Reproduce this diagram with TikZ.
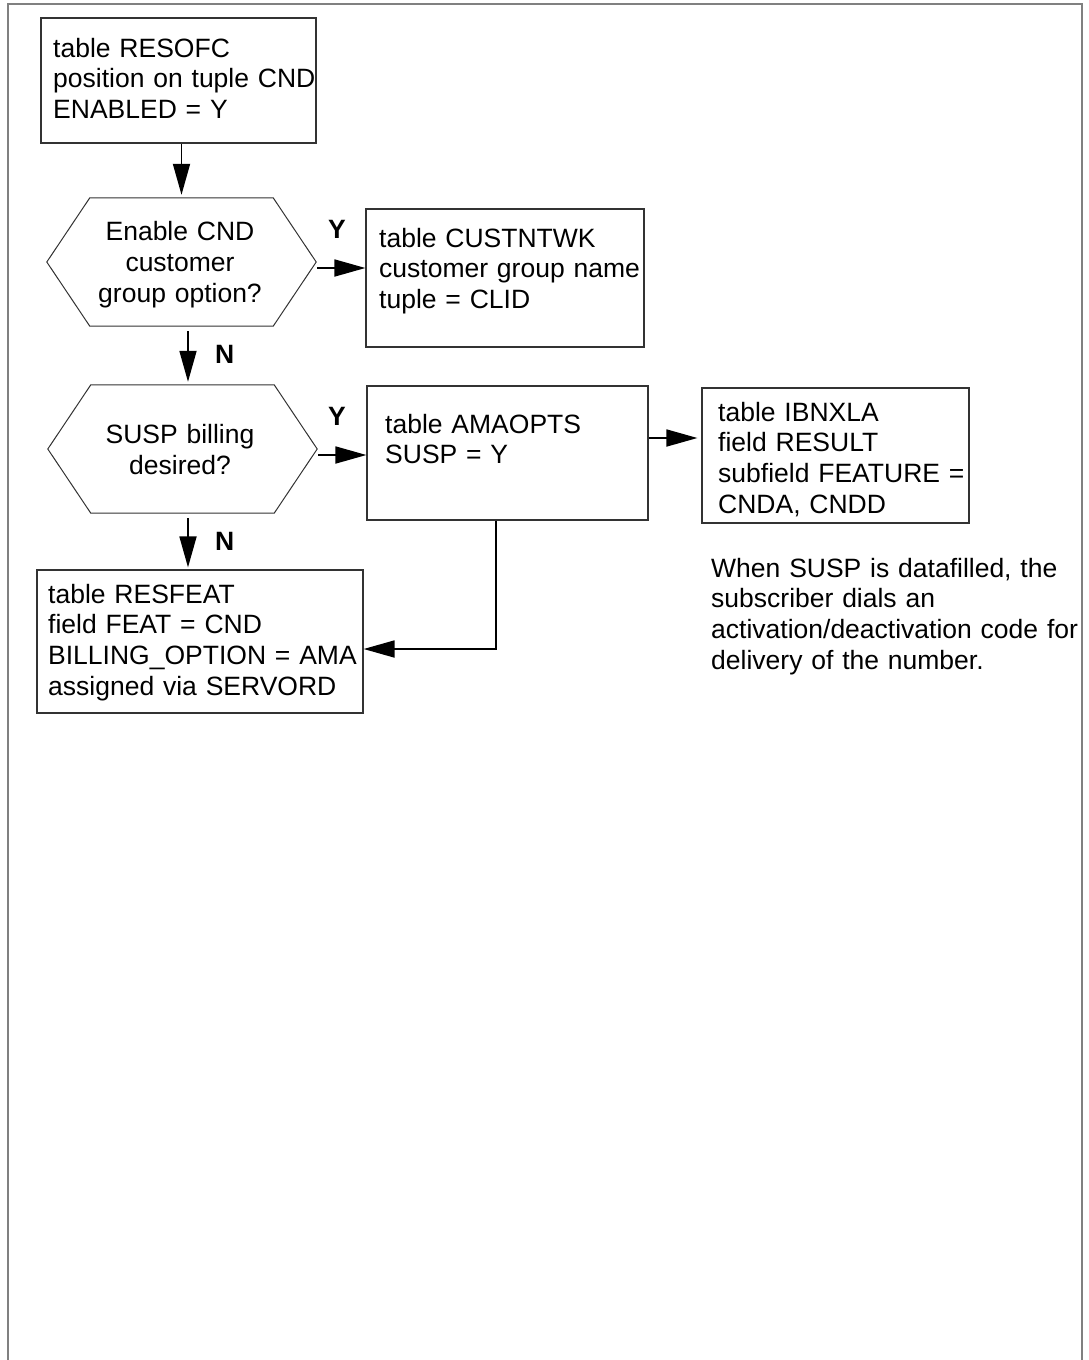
\documentclass[tikz,border=0pt]{standalone}
\usepackage{fontspec}
\setmainfont{Liberation Sans}
\usetikzlibrary{arrows.meta,calc}
\begin{document}
\begin{tikzpicture}[x=1pt,y=-1pt,
  box/.style={draw=black!80, line width=1.2pt, inner sep=0pt, rectangle},
  hexn/.style={inner sep=0pt, minimum width=269pt, minimum height=128pt},
  hexline/.style={draw=black!80, line width=1pt},
  txt/.style={inner sep=0pt, font=\fontsize{26.5}{30.8}\selectfont, text width=420pt, align=left, anchor=base west},
  ctxt/.style={inner sep=0pt, font=\fontsize{26.5}{31.2}\selectfont, text width=260pt, align=center, anchor=base},
  lbl/.style={inner sep=0pt, font=\fontsize{26.5}{30.8}\selectfont\bfseries, anchor=base west},
  arr/.style={line width=1.8pt, -{Triangle[length=31pt,width=17pt]}},
  frame/.style={draw=black!50, line width=2pt}]
\useasboundingbox (0,0) rectangle (1089,1360);
\draw[frame] (8,1360) -- (8,4) -- (1082,4) -- (1082,1360);

% boxes
\node[box, minimum width=275pt, minimum height=125pt] (b1) at (178.5,80.5) {};
\node[box, minimum width=278pt, minimum height=138pt] (cust) at (505,278) {};
\node[box, minimum width=281pt, minimum height=134pt] (ama) at (507.5,453) {};
\node[box, minimum width=267pt, minimum height=135pt] (ibn) at (835.5,455.5) {};
\node[box, minimum width=326pt, minimum height=143pt] (resfeat) at (200,641.5) {};

% hexagons
\node[hexn] (hex1) at (181.5,262) {};
\node[hexn] (hex2) at (182.5,449) {};
\foreach \h in {hex1,hex2}{
  \draw[hexline] (\h.west) -- ([xshift=43pt]\h.north west) -- ([xshift=-43pt]\h.north east)
    -- (\h.east) -- ([xshift=-43pt]\h.south east) -- ([xshift=43pt]\h.south west) -- cycle;
}

% texts
\node[txt] (t1) at (53,57) {table RESOFC\\position on tuple CND\\ENABLED = Y};
\node[txt] (tcust) at (379,247) {table CUSTNTWK\\customer group name\\tuple = CLID};
\node[txt] (tama) at (385,433) {table AMAOPTS\\SUSP = Y};
\node[txt] (tibn) at (718,421) {table IBNXLA\\field RESULT\\subfield FEATURE =\\CNDA, CNDD};
\node[txt] (tres) at (48,603) {table RESFEAT\\field FEAT = CND\\BILLING\_OPTION = AMA\\assigned via SERVORD};
\node[txt] (tnote) at (711,577) {When SUSP is datafilled, the\\subscriber dials an\\activation/deactivation code for\\delivery of the number.};
\node[ctxt] (th1) at (180,240) {Enable CND\\customer\\group option?};
\node[ctxt] (th2) at (180,443) {SUSP billing\\desired?};

% labels
\node[lbl] (ly1) at (328,238) {Y};
\node[lbl] (ly2) at (328,425) {Y};
\node[lbl] (ln1) at (215,363) {N};
\node[lbl] (ln2) at (215,550) {N};

% connectors
\draw[arr, shorten >=3pt] (b1.south -| hex1.north) -- (hex1.north);
\coordinate (y1s) at ([xshift=1pt,yshift=-6pt]hex1.east);
\draw[arr] (y1s) -- (y1s -| cust.west);
\coordinate (n1s) at ([xshift=6.5pt,yshift=-5pt]hex1.south);
\draw[arr, shorten >=3pt] (n1s) -- (n1s |- hex2.north);
\coordinate (y2s) at ([xshift=1pt,yshift=-6pt]hex2.east);
\draw[arr] (y2s) -- (y2s -| ama.west);
\coordinate (n2s) at ([xshift=5.5pt,yshift=-5pt]hex2.south);
\draw[arr, shorten >=2pt] (n2s) -- (n2s |- resfeat.north);
\coordinate (ais) at ([yshift=15pt]ama.east);
\draw[arr, shorten >=4pt] (ais) -- (ais -| ibn.west);
\coordinate (rin) at ([yshift=-7.5pt]resfeat.east);
\draw[arr] ([xshift=-11.5pt]ama.south) |- (rin);
\end{tikzpicture}
\end{document}
